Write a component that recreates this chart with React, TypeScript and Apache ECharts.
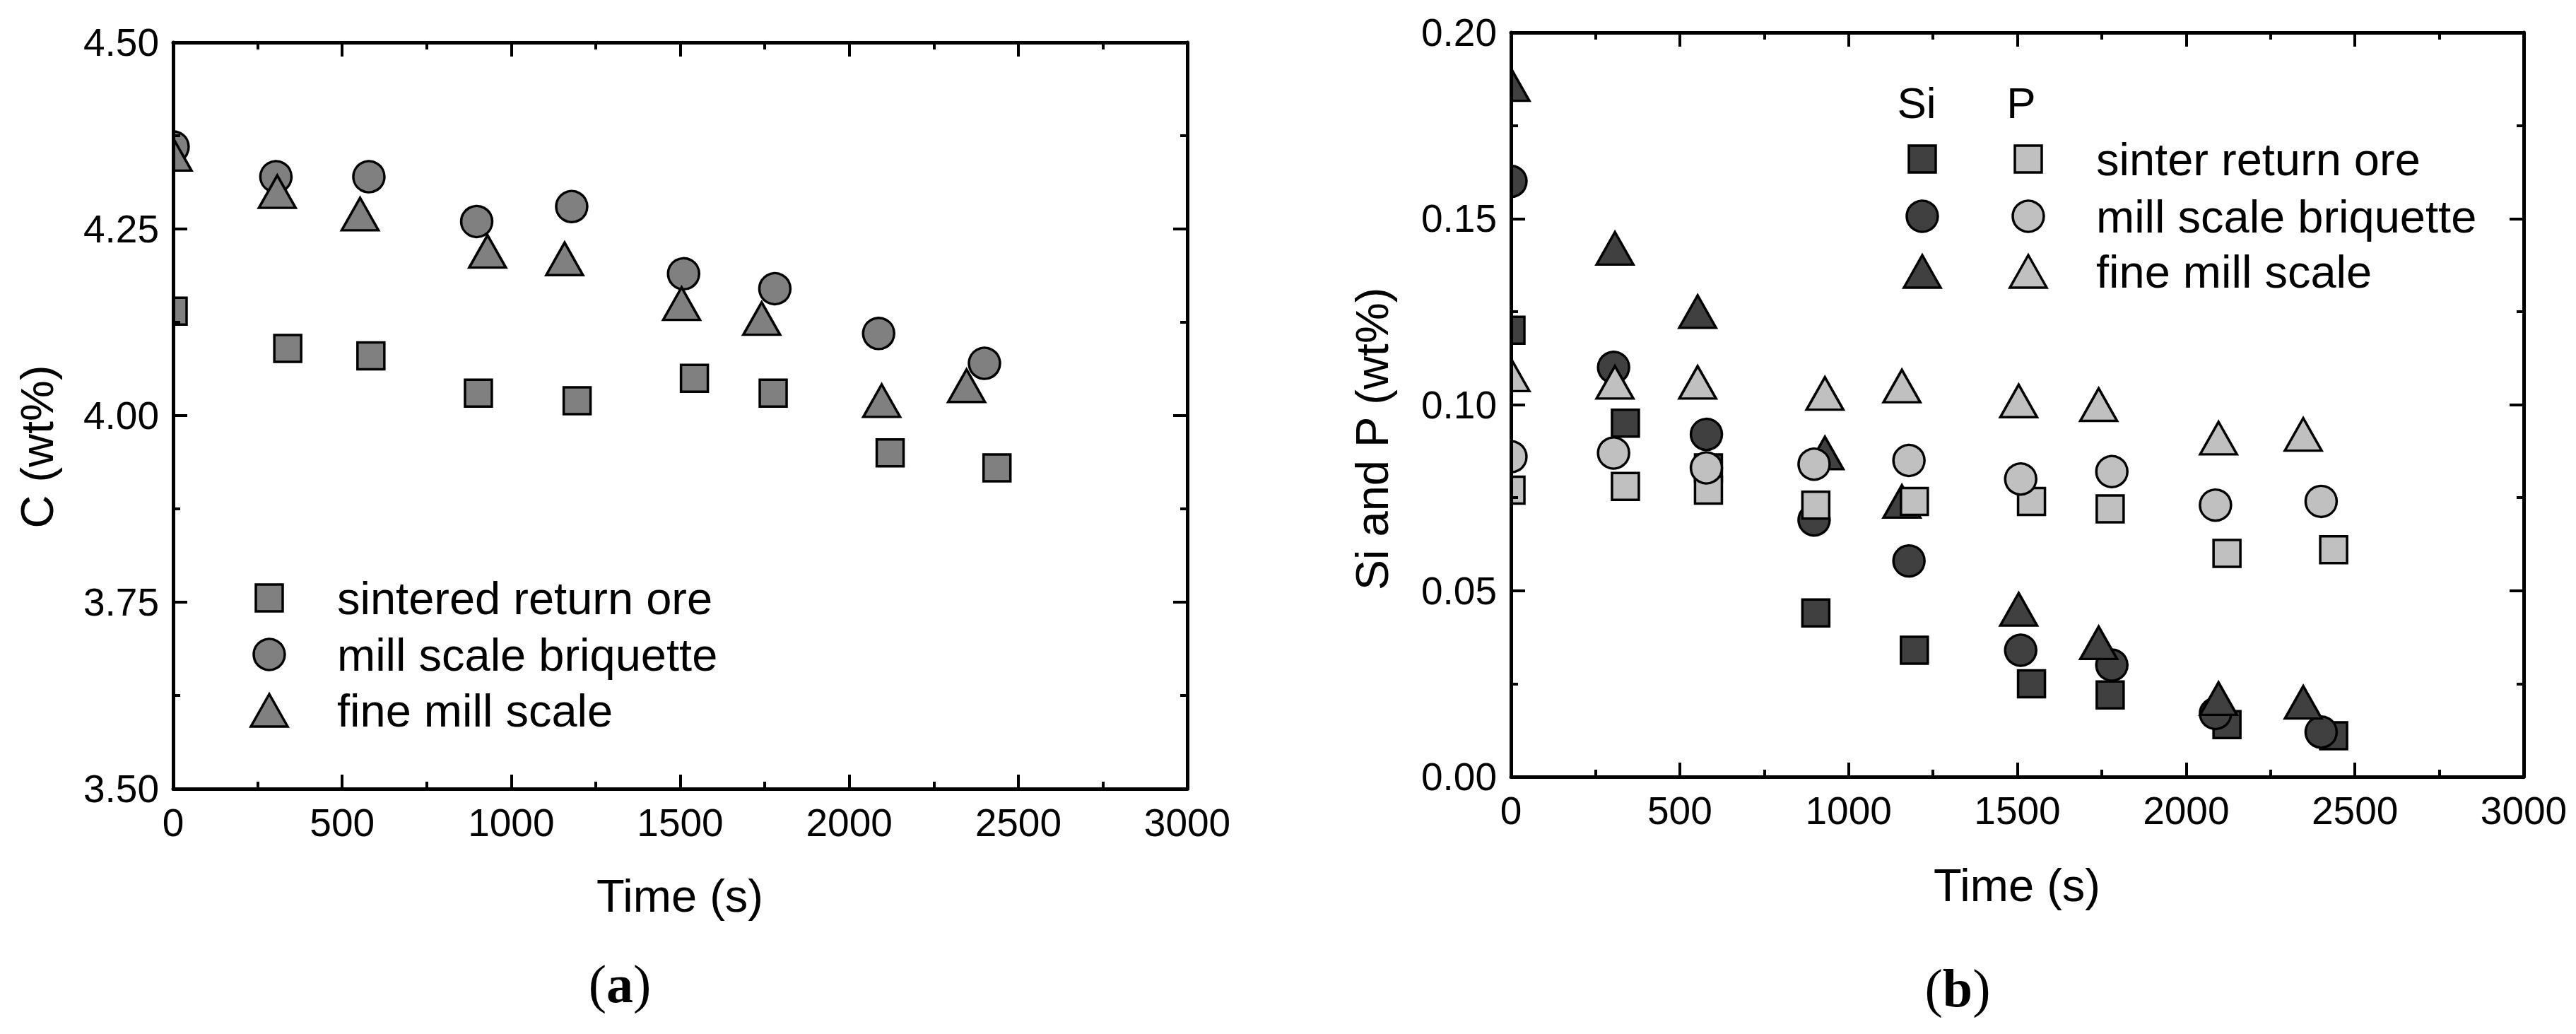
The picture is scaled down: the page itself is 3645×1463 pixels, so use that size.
import React, { useEffect, useRef } from 'react';
import * as echarts from 'echarts';

// ---- Data ----
const timeTicks = [0, 500, 1000, 1500, 2000, 2500, 3000];
const cTicks = [3.5, 3.75, 4.0, 4.25, 4.5];
const siPTicks = [0, 0.05, 0.1, 0.15, 0.2];

const timeSinter = [0, 339, 585, 903, 1195, 1542, 1775, 2121, 2437];
const timeBriquette = [0, 304, 579, 898, 1179, 1510, 1780, 2087, 2400];
const timeFine = [0, 308, 553, 930, 1158, 1504, 1741, 2096, 2347];

// (a) carbon content, wt%
const cSinter = [4.14, 4.09, 4.08, 4.03, 4.02, 4.05, 4.03, 3.95, 3.93];
const cBriquette = [4.36, 4.32, 4.32, 4.26, 4.28, 4.19, 4.17, 4.11, 4.07];
const cFine = [4.35, 4.30, 4.27, 4.22, 4.21, 4.15, 4.13, 4.02, 4.04];

// (b) silicon and phosphorus, wt%
const siSinter = [0.120, 0.095, 0.083, 0.044, 0.034, 0.025, 0.022, 0.014, 0.011];
const siBriquette = [0.160, 0.110, 0.092, 0.069, 0.058, 0.034, 0.030, 0.017, 0.012];
const siFine = [0.186, 0.142, 0.125, 0.087, 0.074, 0.045, 0.036, 0.021, 0.020];
const pSinter = [0.077, 0.078, 0.077, 0.073, 0.074, 0.074, 0.072, 0.060, 0.061];
const pBriquette = [0.086, 0.087, 0.083, 0.084, 0.085, 0.080, 0.082, 0.073, 0.074];
const pFine = [0.108, 0.106, 0.106, 0.103, 0.105, 0.101, 0.100, 0.091, 0.092];

const legendA = ['sintered return ore', 'mill scale briquette', 'fine mill scale'];
const legendB = ['sinter return ore', 'mill scale briquette', 'fine mill scale'];
const legendBHeaders = ['Si', 'P'];

// ---- Styles ----
const SANS = '"Liberation Sans", Arial, sans-serif';
const SERIF = '"Liberation Serif", "Times New Roman", serif';
const GRAY = '#808080';
const DARK = '#404040';
const LIGHT = '#c0c0c0';
const SQ = 38;
const CI = 44;
const TRI = [52, 46];
const BW = 3.5;

const GRID_A = { left: 245, top: 60, width: 1435, height: 1056 };
const GRID_B = { left: 2138, top: 46, width: 1433, height: 1053 };

function valueAxis(ticks: number[], gridIndex: number, position: string, showLabel: boolean, decimals: number) {
  return {
    type: 'value',
    gridIndex,
    position,
    min: ticks[0],
    max: ticks[ticks.length - 1],
    interval: ticks[1] - ticks[0],
    z: 5,
    axisLine: { show: true, onZero: false, lineStyle: { color: '#000', width: 5 } },
    axisTick: { show: true, inside: true, length: 20, lineStyle: { color: '#000', width: 4 } },
    minorTick: { show: true, splitNumber: 2, length: 10, lineStyle: { color: '#000', width: 4 } },
    splitLine: { show: false },
    minorSplitLine: { show: false },
    axisLabel: {
      show: showLabel,
      margin: 20,
      fontSize: 55,
      fontFamily: SANS,
      color: '#000',
      formatter: (v: number) => v.toFixed(decimals),
    },
  };
}

function scatter(name: string, xs: number[], ys: number[], symbol: string, size: any, color: string, axisIdx: number) {
  return {
    type: 'scatter',
    name,
    data: xs.map((x, i) => [x, ys[i]]),
    symbol,
    symbolSize: size,
    xAxisIndex: axisIdx,
    yAxisIndex: axisIdx,
    itemStyle: { color, borderColor: '#000', borderWidth: BW, opacity: 1 },
    emphasis: { disabled: true },
    z: 2,
  };
}

function marker(kind: string, cx: number, cy: number, fill: string) {
  const style = { fill, stroke: '#000', lineWidth: BW };
  if (kind === 'rect') return { type: 'rect', shape: { x: cx - SQ / 2, y: cy - SQ / 2, width: SQ, height: SQ }, style, z: 10 };
  if (kind === 'circle') return { type: 'circle', shape: { cx, cy, r: CI / 2 }, style, z: 10 };
  return {
    type: 'polygon',
    shape: { points: [[cx, cy - TRI[1] / 2], [cx + TRI[0] / 2, cy + TRI[1] / 2], [cx - TRI[0] / 2, cy + TRI[1] / 2]] },
    style,
    z: 10,
  };
}

// white band left of the plot frame: hides the half of the t = 0 markers that lies outside the frame
function mask(grid: { left: number; top: number; height: number }) {
  return {
    type: 'rect',
    shape: { x: grid.left - 40, y: grid.top - 30, width: 40, height: grid.height + 60 },
    style: { fill: '#fff' },
    z: 3,
    silent: true,
  };
}

function text(t: string, x: number, y: number, size: number, align = 'left', rotation = 0) {
  return {
    type: 'text',
    x,
    y,
    rotation,
    z: 10,
    style: { text: t, fontSize: size, fontFamily: SANS, fill: '#000', align, verticalAlign: 'middle' },
  };
}

function panelLabel(letter: string, x: number, y: number) {
  return {
    type: 'text',
    x,
    y,
    z: 10,
    style: {
      text: `{p|(}{b|${letter}}{p|)}`,
      align: 'center',
      verticalAlign: 'middle',
      rich: {
        p: { fontFamily: SERIF, fontSize: 76, fill: '#000' },
        b: { fontFamily: SERIF, fontSize: 76, fontWeight: 'bold', fill: '#000' },
      },
    },
  };
}

export default function App() {
  const ref = useRef<HTMLDivElement>(null);
  useEffect(() => {
    if (!ref.current) return;
    const chart = echarts.init(ref.current, undefined, { renderer: 'svg' });
    const kinds = ['rect', 'circle', 'triangle'];
    const rowsA = [846, 926, 1005];
    const rowsB = [225, 306, 384];
    const elements: any[] = [
      mask(GRID_A),
      mask(GRID_B),
      text('Time (s)', 962, 1267, 65, 'center'),
      text('Time (s)', 2854, 1252, 65, 'center'),
      text('C (wt%)', 52, 632, 65, 'center', Math.PI / 2),
      text('Si and P (wt%)', 1941, 621, 65, 'center', Math.PI / 2),
      panelLabel('a', 877, 1392),
      panelLabel('b', 2770, 1398),
      text(legendBHeaders[0], 2712, 145, 62, 'center'),
      text(legendBHeaders[1], 2860, 145, 62, 'center'),
    ];
    legendA.forEach((name, i) => {
      elements.push(marker(kinds[i], 381, rowsA[i], GRAY));
      elements.push(text(name, 477, rowsA[i], 65));
    });
    legendB.forEach((name, i) => {
      elements.push(marker(kinds[i], 2720, rowsB[i], DARK));
      elements.push(marker(kinds[i], 2870, rowsB[i], LIGHT));
      elements.push(text(name, 2966, rowsB[i], 65));
    });

    chart.setOption({
      animation: false,
      backgroundColor: '#fff',
      grid: [GRID_A, GRID_B],
      xAxis: [
        valueAxis(timeTicks, 0, 'bottom', true, 0),
        valueAxis(timeTicks, 0, 'top', false, 0),
        valueAxis(timeTicks, 1, 'bottom', true, 0),
        valueAxis(timeTicks, 1, 'top', false, 0),
      ],
      yAxis: [
        valueAxis(cTicks, 0, 'left', true, 2),
        valueAxis(cTicks, 0, 'right', false, 2),
        valueAxis(siPTicks, 1, 'left', true, 2),
        valueAxis(siPTicks, 1, 'right', false, 2),
      ],
      series: [
        scatter('C sintered return ore', timeSinter, cSinter, 'rect', SQ, GRAY, 0),
        scatter('C mill scale briquette', timeBriquette, cBriquette, 'circle', CI, GRAY, 0),
        scatter('C fine mill scale', timeFine, cFine, 'triangle', TRI, GRAY, 0),
        scatter('Si sinter return ore', timeSinter, siSinter, 'rect', SQ, DARK, 2),
        scatter('Si mill scale briquette', timeBriquette, siBriquette, 'circle', CI, DARK, 2),
        scatter('Si fine mill scale', timeFine, siFine, 'triangle', TRI, DARK, 2),
        scatter('P sinter return ore', timeSinter, pSinter, 'rect', SQ, LIGHT, 2),
        scatter('P mill scale briquette', timeBriquette, pBriquette, 'circle', CI, LIGHT, 2),
        scatter('P fine mill scale', timeFine, pFine, 'triangle', TRI, LIGHT, 2),
      ],
      graphic: { elements },
    });
    return () => chart.dispose();
  }, []);
  return (
    <div
      ref={ref}
      style={{ position: 'fixed', left: 0, top: 0, width: 3645, height: 1463, background: '#fff' }}
    />
  );
}
